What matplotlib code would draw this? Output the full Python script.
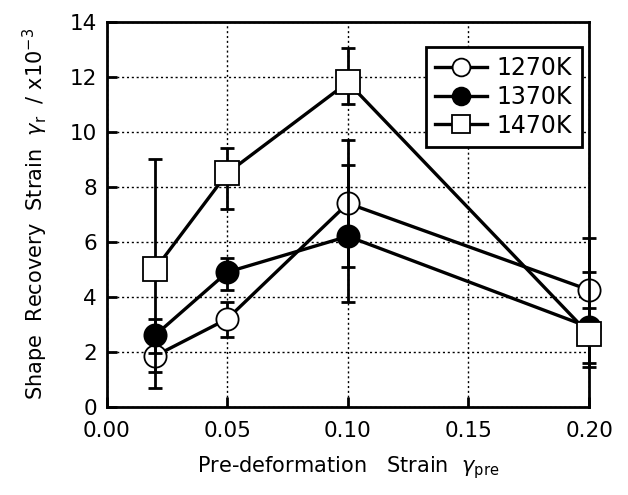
import numpy as np
import matplotlib.pyplot as plt

plt.rcParams['font.family'] = ['DejaVu Sans']

# pre-deformation strain
x = [0.02, 0.05, 0.10, 0.20]

# shape recovery strain (x1e-3), with lower / upper error bar ends
y1270 = [1.85, 3.2, 7.4, 4.25]
lo1270 = [0.7, 2.55, 5.1, 2.35]
hi1270 = [2.6, 3.8, 9.7, 6.15]

y1370 = [2.6, 4.9, 6.2, 2.9]
lo1370 = [1.96, 4.25, 3.8, 1.45]
hi1370 = [3.2, 5.4, 8.8, 4.9]

y1470 = [5.0, 8.5, 11.8, 2.65]
lo1470 = [1.27, 7.2, 11.0, 1.6]
hi1470 = [9.0, 9.4, 13.05, 3.6]

labels = ['1270K', '1370K', '1470K']
xticks = [0.00, 0.05, 0.10, 0.15, 0.20]
yticks = [0, 2, 4, 6, 8, 10, 12, 14]

fig = plt.figure(figsize=(6.28, 4.95), dpi=100)
ax = fig.add_axes([0.170, 0.178, 0.768, 0.778])

series = [(y1270, lo1270, hi1270, 'o', 'white', 16),
          (y1370, lo1370, hi1370, 'o', 'black', 16),
          (y1470, lo1470, hi1470, 's', 'white', 17)]
for i, (y, lo, hi, mk, fc, ms) in enumerate(series):
    y = np.array(y)
    err = [y - np.array(lo), np.array(hi) - y]
    eb = ax.errorbar(x, y, yerr=err, fmt='none', ecolor='black', elinewidth=2,
                     capsize=5, capthick=2, zorder=2 + i)
    for a in eb.lines[1] + eb.lines[2]:
        a.set_clip_on(False)
    ax.plot(x, y, color='black', lw=2.4, marker=mk, ms=ms, mfc=fc,
            mec='black', mew=1.3, label=labels[i], zorder=3 + i, clip_on=False)

ax.set_xlim(0, 0.20)
ax.set_ylim(0, 14)
ax.set_xticks(xticks)
ax.set_yticks(yticks)
ax.set_xticklabels([f'{v:.2f}' for v in xticks])
ax.tick_params(direction='in', length=7, width=2, labelsize=15.5)
ax.tick_params(axis='x', pad=10)
ax.tick_params(axis='y', pad=7)
ax.grid(True, ls=(0, (1.5, 2)), color='black', lw=1)
for s in ax.spines.values():
    s.set_linewidth(2)

ax.set_xlabel(r'Pre-deformation   Strain  $\gamma_{\rm pre}$', fontsize=15, labelpad=10)
ax.set_ylabel(r'Shape  Recovery  Strain  $\gamma_{\rm r}$  / x10$^{-3}$', fontsize=15, labelpad=14)

leg = ax.legend(loc='upper right', bbox_to_anchor=(0.985, 0.935), fontsize=17,
                frameon=True, fancybox=False, edgecolor='black', framealpha=1,
                borderaxespad=0, handlelength=2.2, handletextpad=0.4,
                labelspacing=0.2, borderpad=0.4, markerscale=0.8)
leg.get_frame().set_linewidth(2)

fig.savefig('out.png', dpi=100)
